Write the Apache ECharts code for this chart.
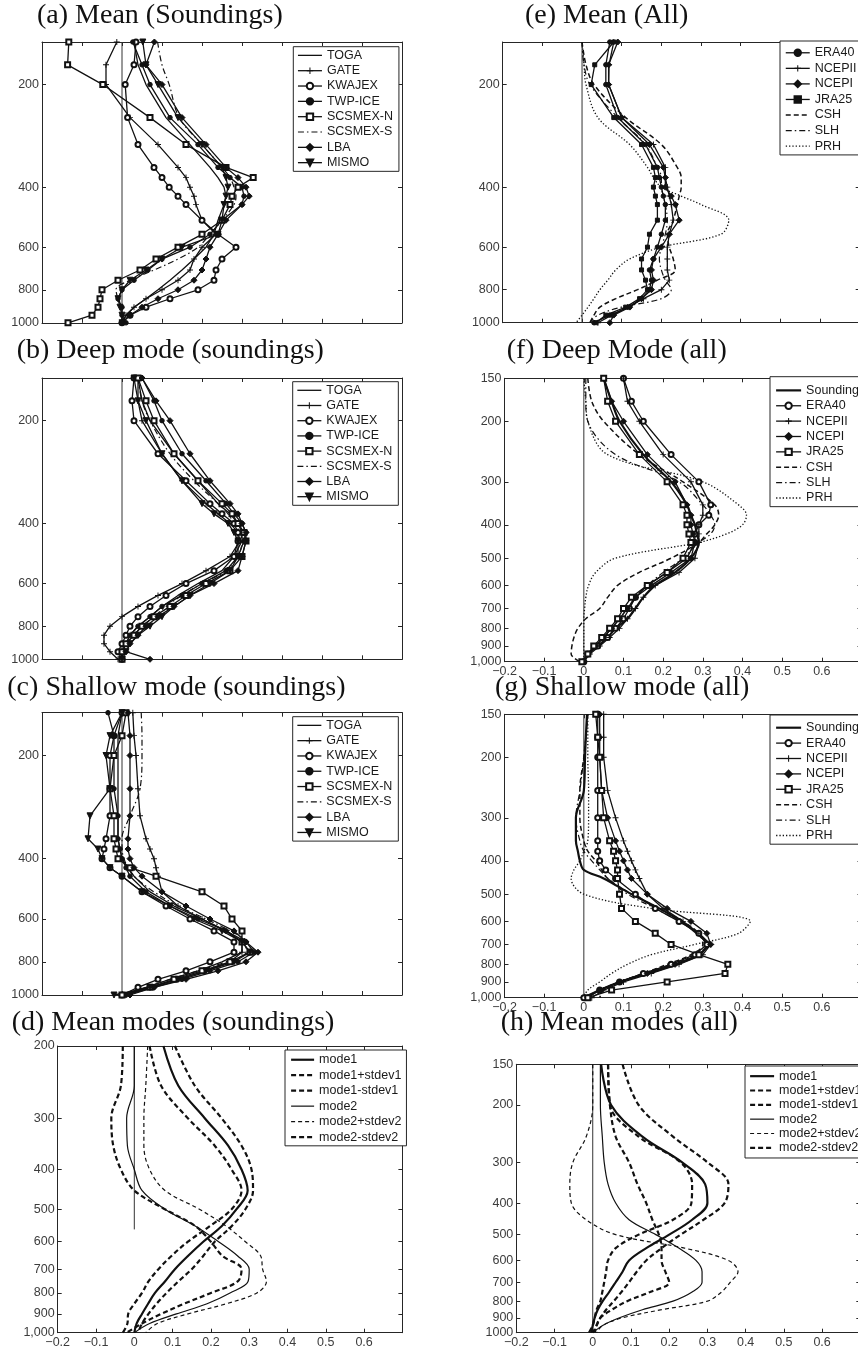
<!DOCTYPE html>
<html><head><meta charset="utf-8">
<script src="https://cdn.jsdelivr.net/npm/echarts@6/dist/echarts.min.js"></script>
<style>html,body{margin:0;padding:0;background:#fff}#c{width:858px;height:1351px}</style>
</head><body><div id="c"></div>
<script>
// ---------- pressure levels (hPa) ----------
const LEV   = [150,175,200,250,300,350,375,400,425,450,500,550,600,650,700,750,800,850,900,950,1000];
const LEV_D = [200,250,300,350,400,450,500,550,600,650,700,750,800,850,900,950,1000];
const LEV_H = [150,200,250,300,350,400,450,500,550,600,650,700,750,800,850,900,950,1000];
// ---------- tick labels ----------
const Y_TICKS_SPARSE = [200,400,600,800,1000];
const Y_TICKS_DENSE  = [150,200,300,400,500,600,700,800,900,1000];
const Y_TICKS_D      = [200,300,400,500,600,700,800,900,1000];
// ---------- series names ----------
const SOUND_NAMES = ['TOGA','GATE','KWAJEX','TWP-ICE','SCSMEX-N','SCSMEX-S','LBA','MISMO'];
const ALL_E_NAMES = ['ERA40','NCEPII','NCEPI','JRA25','CSH','SLH','PRH'];
const ALL_NAMES   = ['Sounding','ERA40','NCEPII','NCEPI','JRA25','CSH','SLH','PRH'];
const MODE_NAMES  = ['mode1','mode1+stdev1','mode1-stdev1','mode2','mode2+stdev2','mode2-stdev2'];
// ---------- (a) Mean (soundings) ----------
const A_TOGA   = [0.03,0.04,0.06,0.11,0.17,0.22,0.24,0.255,0.26,0.255,0.24,0.23,0.21,0.18,0.15,0.12,0.09,0.06,0.03,0.01,0.0];
const A_GATE   = [-0.013,-0.04,-0.04,0.02,0.09,0.14,0.16,0.17,0.18,0.185,0.2,0.235,0.2,0.18,0.17,0.14,0.1,0.06,0.03,0.01,0.0];
const A_KWAJEX = [0.035,0.03,0.008,0.014,0.04,0.08,0.1,0.118,0.14,0.16,0.2,0.24,0.285,0.25,0.235,0.23,0.19,0.12,0.06,0.02,0.0];
const A_TWPICE = [0.027,0.05,0.07,0.12,0.19,0.24,0.27,0.3,0.305,0.3,0.25,0.22,0.17,0.1,0.065,0.03,0.0,-0.01,0.0,0.0,0.01];
const A_SCSN   = [-0.133,-0.136,-0.048,0.07,0.16,0.26,0.328,0.29,0.275,0.27,0.25,0.2,0.14,0.085,0.045,-0.01,-0.05,-0.055,-0.06,-0.075,-0.135];
const A_SCSS   = [0.089,0.1,0.118,0.143,0.2,0.25,0.27,0.28,0.285,0.28,0.25,0.22,0.19,0.14,0.08,0.02,-0.015,-0.01,0.0,0.0,0.0];
const A_LBA    = [0.081,0.06,0.1,0.15,0.21,0.26,0.29,0.31,0.318,0.3,0.26,0.24,0.22,0.21,0.2,0.18,0.14,0.09,0.05,0.02,0.0];
const A_MISMO  = [0.052,0.06,0.09,0.14,0.2,0.25,0.26,0.265,0.26,0.255,0.25,0.24,0.15,0.1,0.06,0.02,0.0,-0.01,-0.005,0.0,0.0];
// ---------- (b) Deep mode (soundings) ----------
const B_TOGA   = [0.04,0.05,0.07,0.13,0.19,0.24,0.27,0.29,0.3,0.3,0.28,0.25,0.19,0.14,0.1,0.07,0.04,0.02,0.01,0.0,0.0];
const B_GATE   = [0.04,0.04,0.05,0.1,0.15,0.21,0.24,0.27,0.29,0.295,0.27,0.21,0.15,0.09,0.04,0.0,-0.03,-0.045,-0.045,-0.03,-0.01];
const B_KWAJEX = [0.03,0.025,0.03,0.09,0.16,0.22,0.25,0.28,0.29,0.29,0.28,0.23,0.16,0.11,0.07,0.04,0.02,0.01,0.0,-0.01,0.0];
const B_TWPICE = [0.05,0.08,0.1,0.15,0.21,0.26,0.28,0.3,0.31,0.305,0.29,0.26,0.2,0.15,0.1,0.07,0.04,0.02,0.01,0.0,0.0];
const B_SCSN   = [0.04,0.06,0.08,0.13,0.19,0.25,0.275,0.29,0.305,0.31,0.3,0.27,0.21,0.16,0.12,0.08,0.05,0.03,0.01,0.0,0.0];
const B_SCSS   = [0.04,0.05,0.07,0.12,0.18,0.24,0.265,0.28,0.295,0.3,0.29,0.26,0.2,0.15,0.11,0.08,0.05,0.03,0.01,0.0,0.0];
const B_LBA    = [0.05,0.085,0.12,0.17,0.22,0.27,0.29,0.3,0.31,0.31,0.3,0.29,0.23,0.17,0.13,0.09,0.06,0.04,0.02,0.01,0.07];
const B_MISMO  = [0.03,0.04,0.06,0.1,0.15,0.2,0.23,0.265,0.28,0.29,0.29,0.27,0.22,0.17,0.13,0.1,0.07,0.04,0.02,0.01,0.0];
// ---------- (c) Shallow mode (soundings) ----------
const C_TOGA   = [0.0,-0.01,-0.01,-0.01,-0.01,-0.01,-0.005,0.0,0.015,0.03,0.07,0.13,0.2,0.26,0.3,0.3,0.25,0.19,0.12,0.06,0.0];
const C_GATE   = [0.027,0.03,0.035,0.04,0.045,0.06,0.07,0.08,0.085,0.09,0.1,0.14,0.2,0.26,0.3,0.3,0.27,0.21,0.14,0.07,0.01];
const C_KWAJEX = [0.0,-0.02,-0.03,-0.03,-0.03,-0.04,-0.045,-0.05,-0.03,0.0,0.05,0.11,0.17,0.23,0.28,0.28,0.22,0.16,0.09,0.04,0.0];
const C_TWPICE = [-0.035,-0.02,-0.02,-0.02,-0.01,-0.01,-0.005,0.0,0.01,0.02,0.06,0.12,0.19,0.26,0.31,0.33,0.29,0.22,0.15,0.08,0.01];
const C_SCSN   = [0.01,0.0,-0.02,-0.03,-0.02,-0.02,-0.015,-0.01,0.02,0.085,0.2,0.255,0.275,0.3,0.3,0.32,0.27,0.2,0.13,0.07,0.0];
const C_SCSS   = [0.048,0.05,0.05,0.045,0.02,0.0,0.0,0.005,0.015,0.03,0.08,0.14,0.21,0.27,0.31,0.31,0.26,0.19,0.12,0.06,0.0];
const C_LBA    = [0.015,0.02,0.02,0.02,0.02,0.015,0.015,0.02,0.03,0.05,0.1,0.16,0.22,0.28,0.31,0.34,0.31,0.24,0.16,0.08,0.02];
const C_MISMO  = [0.0,-0.03,-0.04,-0.03,-0.08,-0.085,-0.06,-0.05,-0.03,0.0,0.05,0.12,0.18,0.25,0.3,0.32,0.28,0.21,0.14,0.07,-0.02];
// ---------- (e) Mean (all) ----------
const E_ERA40  = [0.07,0.06,0.06,0.09,0.16,0.19,0.195,0.2,0.205,0.21,0.21,0.2,0.19,0.18,0.17,0.175,0.17,0.15,0.12,0.07,0.03];
const E_NCEPII = [0.08,0.068,0.067,0.1,0.18,0.21,0.21,0.215,0.22,0.225,0.23,0.22,0.215,0.215,0.215,0.22,0.2,0.155,0.115,0.075,0.04];
const E_NCEPI  = [0.09,0.067,0.067,0.1,0.17,0.205,0.21,0.21,0.225,0.235,0.245,0.22,0.2,0.18,0.175,0.18,0.175,0.15,0.12,0.08,0.07];
const E_JRA25  = [0.08,0.032,0.023,0.08,0.15,0.18,0.185,0.18,0.185,0.19,0.19,0.17,0.165,0.15,0.15,0.16,0.165,0.145,0.11,0.06,0.035];
const E_CSH    = [0.0,0.01,0.03,0.11,0.2,0.24,0.25,0.25,0.245,0.24,0.23,0.215,0.22,0.23,0.235,0.19,0.14,0.085,0.045,0.03,0.02];
const E_SLH    = [0.0,0.005,0.02,0.09,0.16,0.19,0.2,0.2,0.205,0.21,0.215,0.21,0.2,0.195,0.2,0.21,0.225,0.2,0.1,0.04,0.02];
const E_PRH    = [0.0,0.005,0.01,0.04,0.12,0.165,0.18,0.2,0.25,0.3,0.37,0.35,0.2,0.12,0.085,0.065,0.045,0.03,0.015,0.0,-0.015];
// ---------- (f) Deep mode (all) ----------
const F_SOUND  = [0.05,0.07,0.09,0.15,0.22,0.26,0.27,0.28,0.285,0.29,0.27,0.23,0.18,0.15,0.13,0.11,0.08,0.06,0.035,0.01,0.0];
const F_ERA40  = [0.1,0.12,0.15,0.22,0.29,0.32,0.315,0.29,0.28,0.28,0.26,0.21,0.16,0.13,0.115,0.1,0.08,0.06,0.035,0.01,0.0];
const F_NCEPII = [0.1,0.11,0.14,0.2,0.27,0.3,0.3,0.29,0.29,0.29,0.28,0.24,0.18,0.15,0.13,0.11,0.09,0.065,0.04,0.015,0.0];
const F_NCEPI  = [0.05,0.07,0.1,0.16,0.23,0.26,0.27,0.27,0.275,0.28,0.27,0.22,0.17,0.13,0.11,0.09,0.07,0.05,0.03,0.01,0.0];
const F_JRA25  = [0.05,0.06,0.08,0.14,0.21,0.25,0.26,0.26,0.265,0.27,0.25,0.21,0.16,0.12,0.1,0.085,0.065,0.045,0.025,0.01,-0.005];
const F_CSH    = [0.01,0.02,0.05,0.14,0.25,0.33,0.34,0.33,0.31,0.29,0.22,0.14,0.085,0.06,0.04,0.005,-0.015,-0.025,-0.03,-0.032,-0.01];
const F_SLH    = [0.005,0.005,0.01,0.08,0.24,0.3,0.32,0.33,0.32,0.29,0.25,0.2,0.16,0.13,0.11,0.09,0.07,0.05,0.03,0.01,0.0];
const F_PRH    = [0.0,0.005,0.01,0.06,0.3,0.39,0.41,0.4,0.36,0.29,0.08,0.03,0.012,0.005,0.002,0.0,0.0,0.0,0.0,0.0,0.0];
// ---------- (g) Shallow mode (all) ----------
const G_SOUND  = [0.008,0.005,0.003,0.0,-0.02,-0.02,-0.015,-0.01,0.0,0.05,0.12,0.19,0.245,0.285,0.31,0.29,0.23,0.16,0.09,0.04,0.0];
const G_ERA40  = [0.035,0.035,0.035,0.035,0.035,0.035,0.035,0.04,0.055,0.08,0.13,0.18,0.24,0.29,0.31,0.28,0.22,0.15,0.09,0.04,0.0];
const G_NCEPII = [0.05,0.05,0.05,0.06,0.08,0.1,0.11,0.12,0.13,0.14,0.16,0.2,0.25,0.29,0.32,0.3,0.24,0.17,0.1,0.05,0.02];
const G_NCEPI  = [0.04,0.04,0.04,0.045,0.06,0.08,0.09,0.1,0.11,0.12,0.16,0.21,0.27,0.31,0.32,0.29,0.23,0.16,0.09,0.04,0.01];
const G_JRA25  = [0.03,0.035,0.04,0.045,0.05,0.065,0.075,0.08,0.085,0.085,0.09,0.095,0.13,0.18,0.22,0.29,0.363,0.356,0.21,0.07,0.01];
const G_CSH    = [0.01,0.005,0.0,-0.01,-0.01,0.0,0.01,0.03,0.045,0.06,0.12,0.19,0.25,0.29,0.3,0.27,0.21,0.15,0.09,0.05,0.04];
const G_SLH    = [0.01,0.005,0.0,-0.01,-0.02,-0.01,0.0,0.02,0.04,0.06,0.11,0.18,0.24,0.29,0.31,0.28,0.22,0.15,0.09,0.04,0.01];
const G_PRH    = [0.01,0.01,0.01,0.012,0.012,0.01,0.0,-0.01,-0.025,-0.032,0.0,0.17,0.42,0.39,0.28,0.17,0.11,0.07,0.04,0.01,0.0];
// ---------- (d) Mean modes (soundings) ----------
const D_M1  = [0.076,0.115,0.184,0.245,0.28,0.296,0.267,0.228,0.18,0.14,0.106,0.08,0.054,0.036,0.02,0.006,0.0];
const D_M1P = [0.106,0.158,0.228,0.28,0.306,0.31,0.29,0.254,0.21,0.18,0.15,0.115,0.084,0.058,0.037,0.02,0.01];
const D_M1M = [0.04,0.07,0.14,0.21,0.254,0.28,0.254,0.197,0.14,0.097,0.063,0.037,0.02,0.0,-0.016,-0.018,-0.03];
const D_M2  = [0.0,0.0,-0.02,-0.018,0.0,0.02,0.08,0.16,0.22,0.27,0.3,0.297,0.25,0.19,0.11,0.04,0.0];
const D_M2P = [0.035,0.03,0.025,0.025,0.04,0.08,0.17,0.24,0.29,0.33,0.335,0.345,0.32,0.24,0.14,0.06,0.03];
const D_M2M = [-0.03,-0.035,-0.06,-0.055,-0.035,0.0,0.08,0.16,0.2,0.23,0.28,0.27,0.2,0.13,0.07,0.02,-0.02];
// ---------- (h) Mean modes (all) ----------
const H_M1  = [0.022,0.048,0.13,0.234,0.294,0.3,0.26,0.2,0.14,0.095,0.078,0.06,0.043,0.026,0.013,0.005,0.0,-0.004];
const H_M1P = [0.078,0.12,0.21,0.3,0.355,0.345,0.29,0.23,0.18,0.14,0.115,0.095,0.075,0.055,0.035,0.02,0.01,0.0];
const H_M1M = [0.04,0.045,0.12,0.23,0.26,0.258,0.21,0.12,0.06,0.04,0.035,0.03,0.025,0.02,0.01,0.005,0.0,-0.01];
const H_M2  = [0.02,0.02,0.025,0.03,0.04,0.06,0.095,0.165,0.225,0.27,0.286,0.286,0.26,0.21,0.13,0.07,0.026,0.0];
const H_M2P = [0.0,0.0,-0.017,-0.052,-0.06,-0.056,-0.017,0.06,0.24,0.355,0.38,0.36,0.337,0.3,0.18,0.078,0.026,0.01];
const H_M2M = [0.04,0.045,0.06,0.095,0.117,0.14,0.156,0.173,0.18,0.18,0.19,0.2,0.15,0.09,0.05,0.02,0.01,0.005];
// zero reference line extents (pressure)
const ZERO_FULL = [150,1000];
const ZERO_D    = [200,560];

// ---------- styles ----------
const INK = '#111', AX = '#262626', LAB = '#3c3c3c';
const SANS = '"Liberation Sans", Arial, sans-serif';
const PLUS = 'path://M4.2,0H5.8V4.2H10V5.8H5.8V10H4.2V5.8H0V4.2H4.2Z';
const STY = {
  plain:{w:1.3},
  plus:{w:1.3, sym:PLUS, size:6, bw:0},
  ocircle:{w:1.3, sym:'emptyCircle', size:5},
  fcircle:{w:1.3, sym:'circle', size:4.5},
  orect:{w:1.3, sym:'emptyRect', size:5},
  frect:{w:1.3, sym:'rect', size:4},
  dashdot:{w:1.2, dash:[6,3,1.5,3], smooth:true},
  fdiamond:{w:1.3, sym:'diamond', size:6},
  ftri:{w:1.3, sym:'triangle', size:6, rot:180},
  thick:{w:2.2, smooth:true},
  dashed:{w:1.5, dash:[5,3], smooth:true},
  dotted:{w:1.3, dash:[1.3,2], smooth:true},
  thickdash:{w:2.2, dash:[5,3], smooth:true},
  thindash:{w:1.2, dash:[4,3], smooth:true},
  thin:{w:1.2, smooth:true}
};
const SOUND_STY = ['plain','plus','ocircle','fcircle','orect','dashdot','fdiamond','ftri'];
const E_STY = ['fcircle','plus','fdiamond','frect','dashed','dashdot','dotted'];
const ALL_STY = ['thick','ocircle','plus','fdiamond','orect','dashed','dashdot','dotted'];
const MODE_STY = ['thick','thickdash','thickdash','thin','thindash','thickdash'];

const panels = [
  {id:'a', title:'(a) Mean (Soundings)', t:[37,25], g:[42,42,360,280.8], ymin:150, yt:Y_TICKS_SPARSE, comma:false, xl:false,
   lev:LEV, names:SOUND_NAMES, sty:SOUND_STY, vals:[A_TOGA,A_GATE,A_KWAJEX,A_TWPICE,A_SCSN,A_SCSS,A_LBA,A_MISMO], zero:ZERO_FULL,
   lg:{x:293.3,y:46.7,pad:[1,6,1,4],iw:24,lh:15.33}},
  {id:'b', title:'(b) Deep mode (soundings)', t:[16.7,360], g:[42,378,360,281.3], ymin:150, yt:Y_TICKS_SPARSE, comma:false, xl:false,
   lev:LEV, names:SOUND_NAMES, sty:SOUND_STY, vals:[B_TOGA,B_GATE,B_KWAJEX,B_TWPICE,B_SCSN,B_SCSS,B_LBA,B_MISMO], zero:ZERO_FULL,
   lg:{x:292.7,y:381.7,pad:[1,6,1,4],iw:24,lh:15.2}},
  {id:'c', title:'(c) Shallow mode (soundings)', t:[7.3,696.7], g:[42,712.7,360,282.3], ymin:150, yt:Y_TICKS_SPARSE, comma:false, xl:false,
   lev:LEV, names:SOUND_NAMES, sty:SOUND_STY, vals:[C_TOGA,C_GATE,C_KWAJEX,C_TWPICE,C_SCSN,C_SCSS,C_LBA,C_MISMO], zero:ZERO_FULL,
   lg:{x:292.7,y:716.7,pad:[1,6,1,4],iw:24,lh:15.3}},
  {id:'d', title:'(d) Mean modes (soundings)', t:[11.7,1031.7], g:[57.7,1046,344.7,286.7], ymin:200, yt:Y_TICKS_D, comma:true, xl:true,
   lev:LEV_D, names:MODE_NAMES, sty:MODE_STY, vals:[D_M1,D_M1P,D_M1M,D_M2,D_M2P,D_M2M], zero:ZERO_D,
   lg:{x:285,y:1050,pad:[2,5,1,5],iw:23,lh:15.47}},
  {id:'e', title:'(e) Mean (All)', t:[525,25], g:[502.7,42,357,280.7], ymin:150, yt:Y_TICKS_SPARSE, comma:false, xl:false,
   lev:LEV, names:ALL_E_NAMES, sty:E_STY, vals:[E_ERA40,E_NCEPII,E_NCEPI,E_JRA25,E_CSH,E_SLH,E_PRH], zero:ZERO_FULL,
   lg:{x:780,y:41,pad:[4,6,1,5],iw:24,lh:15.56}},
  {id:'f', title:'(f) Deep Mode (all)', t:[506.7,360], g:[504.5,378.3,357,283.4], ymin:150, yt:Y_TICKS_DENSE, comma:true, xl:true,
   lev:LEV, names:ALL_NAMES, sty:ALL_STY, vals:[F_SOUND,F_ERA40,F_NCEPII,F_NCEPI,F_JRA25,F_CSH,F_SLH,F_PRH], zero:ZERO_FULL,
   lg:{x:770,y:376.7,pad:[6,6,1,5],iw:25,lh:15.37}},
  {id:'g', title:'(g) Shallow mode (all)', t:[495,696.7], g:[504.5,714.3,357,283.4], ymin:150, yt:Y_TICKS_DENSE, comma:true, xl:true,
   lev:LEV, names:ALL_NAMES, sty:ALL_STY, vals:[G_SOUND,G_ERA40,G_NCEPII,G_NCEPI,G_JRA25,G_CSH,G_SLH,G_PRH], zero:ZERO_FULL,
   lg:{x:770,y:715,pad:[5,6,1,5],iw:25,lh:15.4}},
  {id:'h', title:'(h) Mean modes (all)', t:[500.7,1031.7], g:[516.3,1064.3,344,268.4], ymin:150, yt:Y_TICKS_DENSE, comma:false, xl:true,
   lev:LEV_H, names:MODE_NAMES, sty:MODE_STY, vals:[H_M1,H_M1P,H_M1M,H_M2,H_M2P,H_M2M], zero:ZERO_FULL,
   lg:{x:745,y:1066,pad:[3,6,3,4],iw:24,lh:14.33}}
];

const grids=[], xAxes=[], yAxes=[], series=[], legends=[], graphics=[];
function xFmt(v){
  const r = Math.round(v*10)/10;
  if (r > 0.65) return '';
  if (r === 0) return '0';
  return (r < 0 ? '\u2212' : '') + Math.abs(r).toFixed(1);
}
panels.forEach((pn, i) => {
  grids.push({left:pn.g[0], top:pn.g[1], width:pn.g[2], height:pn.g[3], containLabel:false, outerBoundsMode:'none', show:false});
  const axLine = {show:true, onZero:false, lineStyle:{color:AX, width:1}};
  const tick = {show:true, inside:true, length:4, lineStyle:{color:AX, width:1}};
  const xBase = {gridIndex:i, type:'value', min:-0.2, max:0.7, interval:0.1, splitLine:{show:false}, axisLine:axLine, axisTick:tick};
  xAxes.push(Object.assign({}, xBase, {position:'bottom',
    axisLabel:{show:pn.xl, formatter:xFmt, color:LAB, fontFamily:SANS, fontSize:12.5, margin:3, showMinLabel:true, showMaxLabel:true, hideOverlap:false}}));
  xAxes.push(Object.assign({}, xBase, {position:'top', axisLabel:{show:false}}));
  const tk = Object.assign({}, tick, {customValues:pn.yt});
  const yBase = {gridIndex:i, type:'log', logBase:10, min:pn.ymin, max:1000, inverse:true, splitLine:{show:false}, minorTick:{show:false},
    axisLine:axLine, axisTick:tk};
  yAxes.push(Object.assign({}, yBase, {position:'left',
    axisLabel:{show:true, customValues:pn.yt, color:LAB, fontFamily:SANS, fontSize:12.5, margin:3, hideOverlap:false,
      formatter:(v)=>{const r=Math.round(v); return (pn.comma && r>=1000) ? r.toLocaleString('en-US') : String(r);}}}));
  yAxes.push(Object.assign({}, yBase, {position:'right', axisLabel:{show:false}}));

  // zero reference line
  series.push({type:'line', name:'zero|'+pn.id, xAxisIndex:2*i, yAxisIndex:2*i, data:pn.zero.map(p=>[0,p]),
    symbol:'none', silent:true, z:1, lineStyle:{color:'#333', width:1}, animation:false});

  const legendData = [];
  pn.names.forEach((nm, k) => {
    const s = STY[pn.sty[k]];
    const full = nm + '|' + pn.id;
    legendData.push(s.sym ? {name:full} : {name:full, itemStyle:{opacity:0, borderWidth:0}});
    series.push({type:'line', name:full, xAxisIndex:2*i, yAxisIndex:2*i,
      data: pn.vals[k].map((v,j)=>[v, pn.lev[j]]),
      symbol: s.sym || 'none', showSymbol: !!s.sym, symbolSize: s.size || 5, symbolRotate: s.rot || 0,
      smooth: s.smooth ? 0.35 : false,
      lineStyle:{color:INK, width:s.w, type: s.dash || 'solid'},
      itemStyle:{color:INK, borderColor:INK, borderWidth: (s.bw===0?0:1)},
      emphasis:{disabled:true}, animation:false, z:3});
  });

  legends.push({show:true, orient:'vertical', left:pn.lg.x, top:pn.lg.y, padding:pn.lg.pad,
    itemWidth:pn.lg.iw, itemHeight:8, itemGap:0, borderColor:AX, borderWidth:1, backgroundColor:'#fff', borderRadius:0,
    selectedMode:false, data:legendData, formatter:(n)=>n.split('|')[0],
    lineStyle:{width:'inherit'},
    textStyle:{fontFamily:SANS, fontSize:12.5, color:'#1a1a1a', lineHeight:pn.lg.lh}});

  graphics.push({type:'text', x:pn.t[0], y:pn.t[1]-9.5, silent:true,
    style:{text:pn.title, font:'28px "Liberation Serif", "Times New Roman", serif', fill:'#111', align:'left', verticalAlign:'middle'}});
});

const chart = echarts.init(document.getElementById('c'), null, {renderer:'canvas', width:858, height:1351});
chart.setOption({
  animation:false, backgroundColor:'#fff',
  textStyle:{fontFamily:SANS},
  grid:grids, xAxis:xAxes, yAxis:yAxes, series:series, legend:legends, graphic:graphics
});
</script></body></html>
